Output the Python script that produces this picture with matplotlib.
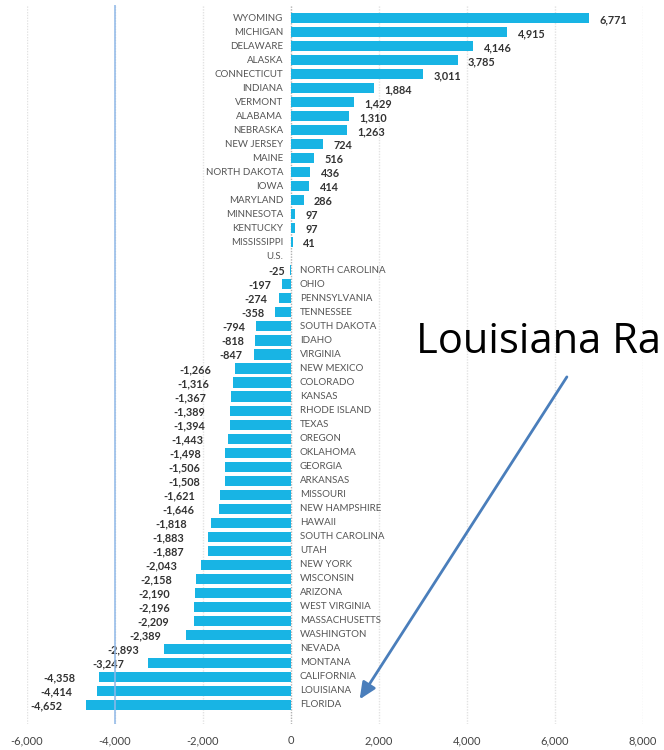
import matplotlib.pyplot as plt

states = ["WYOMING", "MICHIGAN", "DELAWARE", "ALASKA", "CONNECTICUT", "INDIANA",
          "VERMONT", "ALABAMA", "NEBRASKA", "NEW JERSEY", "MAINE", "NORTH DAKOTA",
          "IOWA", "MARYLAND", "MINNESOTA", "KENTUCKY", "MISSISSIPPI", "U.S.",
          "NORTH CAROLINA", "OHIO", "PENNSYLVANIA", "TENNESSEE", "SOUTH DAKOTA",
          "IDAHO", "VIRGINIA", "NEW MEXICO", "COLORADO", "KANSAS", "RHODE ISLAND",
          "TEXAS", "OREGON", "OKLAHOMA", "GEORGIA", "ARKANSAS", "MISSOURI",
          "NEW HAMPSHIRE", "HAWAII", "SOUTH CAROLINA", "UTAH", "NEW YORK",
          "WISCONSIN", "ARIZONA", "WEST VIRGINIA", "MASSACHUSETTS", "WASHINGTON",
          "NEVADA", "MONTANA", "CALIFORNIA", "LOUISIANA", "FLORIDA"]
values = [6771, 4915, 4146, 3785, 3011, 1884, 1429, 1310, 1263, 724, 516, 436,
          414, 286, 97, 97, 41, 0,
          -25, -197, -274, -358, -794, -818, -847, -1266, -1316, -1367, -1389,
          -1394, -1443, -1498, -1506, -1508, -1621, -1646, -1818, -1883, -1887,
          -2043, -2158, -2190, -2196, -2209, -2389, -2893, -3247, -4358, -4414,
          -4652]
xticks = [-6000, -4000, -2000, 0, 2000, 4000, 6000, 8000]

plt.rcParams['font.family'] = ['Lato', 'DejaVu Sans']

fig = plt.figure(figsize=(6.64, 7.5), dpi=100)
ax = fig.add_axes([27 / 664, 26 / 750, 616 / 664, 719 / 750])

ypos = list(range(len(states)))
bar_color = "#18b4e4"

# grid
for t in xticks:
    if t == 0:
        ax.axvline(t, color="#b0b0b0", lw=1, ls=(0, (1, 1)), zorder=0)
    else:
        ax.axvline(t, color="#e2e2e2", lw=1, ls=(0, (1, 1)), zorder=0)

for y, s, v in zip(ypos, states, values):
    if s == "U.S.":
        ax.text(-180, y, s, ha="right", va="center", fontsize=7, color="#555555")
        continue
    ax.barh(y, v, height=0.72, color=bar_color, zorder=2)
    lab = f"{v:,}"
    if v > 0:
        ax.text(-180, y, s, ha="right", va="center", fontsize=7, color="#555555")
        ax.annotate(lab, (v, y), xytext=(7.5, -1), textcoords="offset points",
                    ha="left", va="center", fontsize=7.8, fontweight="bold",
                    color="#333333")
    else:
        ax.text(200, y, s, ha="left", va="center", fontsize=7, color="#555555")
        if v <= -1000:
            gap = 17.5
        elif v <= -100:
            gap = 8
        else:
            gap = 3.5
        ax.annotate(lab, (v, y), xytext=(-gap, -1), textcoords="offset points",
                    ha="right", va="center", fontsize=7.8, fontweight="bold",
                    color="#333333")

# highlight line at -4000
ax.axvline(-4000, color="#8fb8e8", lw=1.3, alpha=0.85, zorder=3)

ax.set_xlim(-6000, 8000)
ax.set_ylim(50.36, -0.93)
ax.set_xticks(xticks)
ax.set_xticklabels([f"{t:,}" for t in xticks], fontsize=8, color="#444444")
ax.set_yticks([])
ax.tick_params(axis="x", length=0, pad=8)
for sp in ax.spines.values():
    sp.set_visible(False)

# annotation
la = states.index("LOUISIANA")
ax.annotate("", xy=(1560, la + 0.6), xytext=(6270, 25.6),
            arrowprops=dict(arrowstyle="-|>,head_length=1.0,head_width=0.45",
                            color="#4a7ebb", lw=2, shrinkA=0, shrinkB=0),
            zorder=5)
fig.text(416 / 664, 1 - 353 / 750, "Louisiana Ra", fontsize=30,
         family=["Open Sans", "DejaVu Sans"], color="black", ha="left",
         va="baseline")

fig.savefig("out.png", dpi=100)
